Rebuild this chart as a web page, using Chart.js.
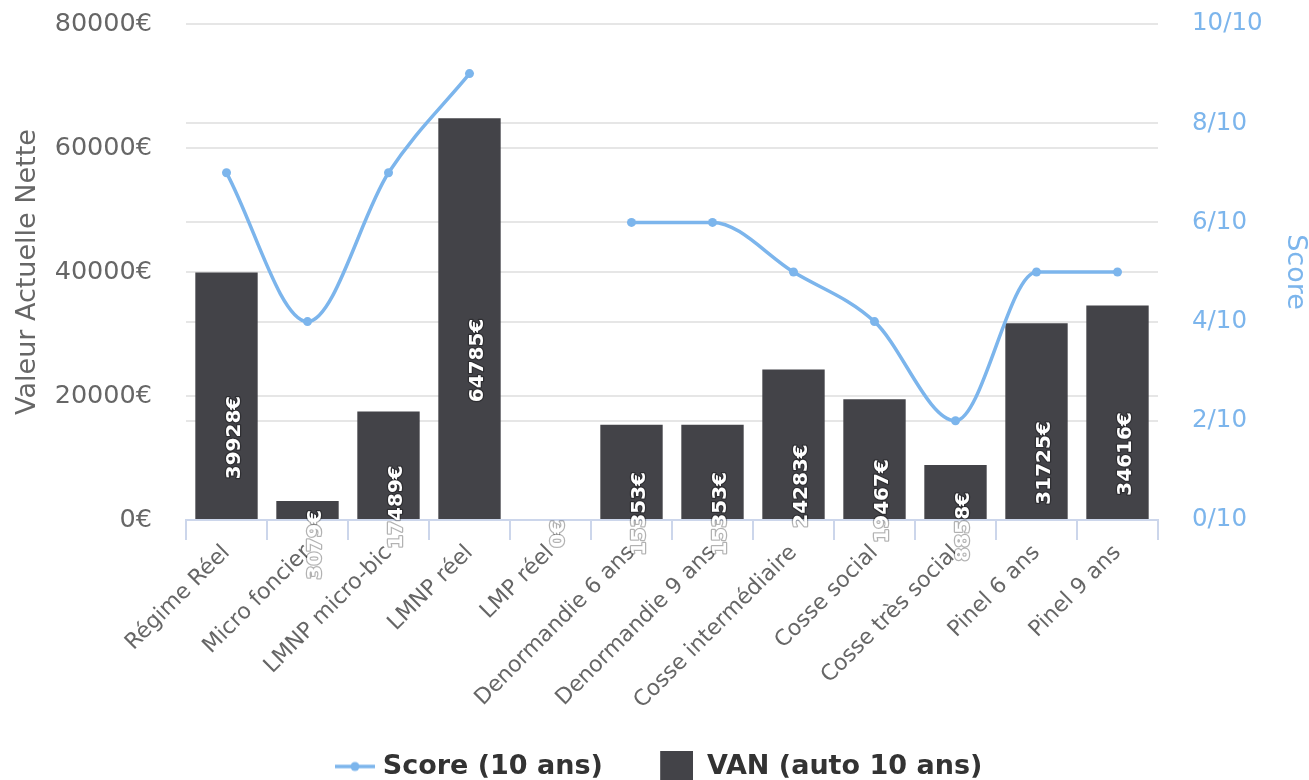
<!DOCTYPE html>
<html>
<head>
<meta charset="utf-8">
<script src="https://cdn.jsdelivr.net/npm/chart.js@4.4.1/dist/chart.umd.min.js"></script>
<style>
  html, body { margin: 0; padding: 0; background: #fff; }
  #wrap { width: 1309px; height: 780px; }
</style>
</head>
<body>
<div id="wrap"><canvas id="chart"></canvas></div>
<script>
const categories = ["Régime Réel", "Micro foncier", "LMNP micro-bic", "LMNP réel", "LMP réel",
  "Denormandie 6 ans", "Denormandie 9 ans", "Cosse intermédiaire", "Cosse social",
  "Cosse très social", "Pinel 6 ans", "Pinel 9 ans"];
const scores = [7, 4, 7, 9, null, 6, 6, 5, 4, 2, 5, 5];
const van = [39928, 3079, 17489, 64785, 0, 15353, 15353, 24283, 19467, 8858, 31725, 34616];
const vanTicks = [0, 20000, 40000, 60000, 80000];
const scoreTicks = [0, 2, 4, 6, 8, 10];

const BLUE = '#7cb5ec';
const DARK = '#434348';
const FONT = "'DejaVu Sans'";

// legend symbols (line with marker, square)
const lineSym = document.createElement('canvas');
lineSym.width = 54; lineSym.height = 12;
let c = lineSym.getContext('2d');
c.strokeStyle = BLUE; c.lineWidth = 3.5;
c.beginPath(); c.moveTo(14, 6); c.lineTo(54, 6); c.stroke();
c.fillStyle = BLUE; c.beginPath(); c.arc(34, 6, 4.5, 0, Math.PI * 2); c.fill();

const boxSym = document.createElement('canvas');
boxSym.width = 42; boxSym.height = 32;
c = boxSym.getContext('2d');
c.fillStyle = DARK; c.fillRect(9, 0, 33, 32);

// rotated value labels on the bars
const barLabels = {
  id: 'barLabels',
  afterDatasetsDraw(chart) {
    const meta = chart.getDatasetMeta(1);
    const ctx = chart.ctx;
    ctx.save();
    ctx.font = "bold 20px " + FONT;
    ctx.textAlign = 'right';
    ctx.textBaseline = 'middle';
    ctx.lineJoin = 'round';
    meta.data.forEach((bar, i) => {
      const mid = (bar.y + bar.base) / 2;
      const txt = van[i] + '€';
      ctx.save();
      ctx.translate(bar.x + 8, mid);
      ctx.rotate(-Math.PI / 2);
      ctx.strokeStyle = 'rgba(0,0,0,0.3)';
      ctx.lineWidth = 2.5;
      ctx.strokeText(txt, 0, 0);
      ctx.fillStyle = '#ffffff';
      ctx.fillText(txt, 0, 0);
      ctx.restore();
    });
    ctx.restore();
  }
};

const chart = new Chart(document.getElementById('chart'), {
  data: {
    labels: categories,
    datasets: [
      {
        type: 'line',
        label: 'Score (10 ans)',
        data: scores,
        yAxisID: 'y1',
        borderColor: BLUE,
        backgroundColor: BLUE,
        borderWidth: 3.5,
        pointRadius: 4.5,
        pointBorderWidth: 0,
        pointBackgroundColor: BLUE,
        cubicInterpolationMode: 'monotone',
        spanGaps: false
      },
      {
        type: 'bar',
        label: 'VAN (auto 10 ans)',
        data: van,
        yAxisID: 'y',
        backgroundColor: DARK,
        borderWidth: 0,
        categoryPercentage: 1,
        barPercentage: 0.77
      }
    ]
  },
  options: {
    responsive: true,
    maintainAspectRatio: false,
    animation: false,
    layout: { padding: { top: 24, bottom: -10, left: 0, right: 0 } },
    plugins: {
      tooltip: { enabled: false },
      legend: {
        position: 'bottom',
        labels: {
          font: { family: FONT, size: 27, weight: 'bold' },
          color: '#333333',
          usePointStyle: true,
          pointStyleWidth: 42.5,
          padding: 48,
          generateLabels(chart) {
            const items = Chart.defaults.plugins.legend.labels.generateLabels(chart);
            items[0].pointStyle = lineSym;
            items[1].pointStyle = boxSym;
            return items;
          }
        }
      }
    },
    scales: {
      x: {
        grid: { display: true, drawOnChartArea: false, drawTicks: true, tickLength: 20, color: '#ccd6eb', lineWidth: 2 },
        border: { display: true, color: '#ccd6eb', width: 2 },
        ticks: {
          autoSkip: false, maxRotation: 45, minRotation: 45, padding: 0,
          color: '#666666', font: { family: FONT, size: 22 }
        },
        afterFit(scale) { scale.height = 185; }
      },
      y: {
        position: 'left',
        min: 0, max: 80000,
        afterBuildTicks(scale) { scale.ticks = vanTicks.map(v => ({ value: v })); },
        grid: { color: '#e6e6e6', lineWidth: 2, drawTicks: true, tickLength: 34, tickColor: 'rgba(0,0,0,0)' },
        border: { display: false },
        ticks: {
          padding: 0, color: '#666666', font: { family: FONT, size: 25.5 },
          callback: v => v + '€'
        },
        title: {
          display: true, text: 'Valeur Actuelle Nette', color: '#666666',
          font: { family: FONT, size: 27, lineHeight: 1 }, padding: { top: 14, bottom: 0 }
        },
        afterFit(scale) { scale.width = 186; }
      },
      y1: {
        position: 'right',
        min: 0, max: 10,
        afterBuildTicks(scale) { scale.ticks = scoreTicks.map(v => ({ value: v })); },
        grid: { color: '#e6e6e6', lineWidth: 2, drawTicks: true, tickLength: 34, tickColor: 'rgba(0,0,0,0)' },
        border: { display: false },
        ticks: {
          padding: 0, color: BLUE, font: { family: FONT, size: 24.5 },
          callback: v => v + '/10'
        },
        title: {
          display: true, text: 'Score', color: BLUE,
          font: { family: FONT, size: 27, lineHeight: 1 }, padding: { top: 0, bottom: 0 }
        },
        afterFit(scale) { scale.width = 151; }
      }
    }
  },
  plugins: [barLabels]
});
</script>
</body>
</html>
